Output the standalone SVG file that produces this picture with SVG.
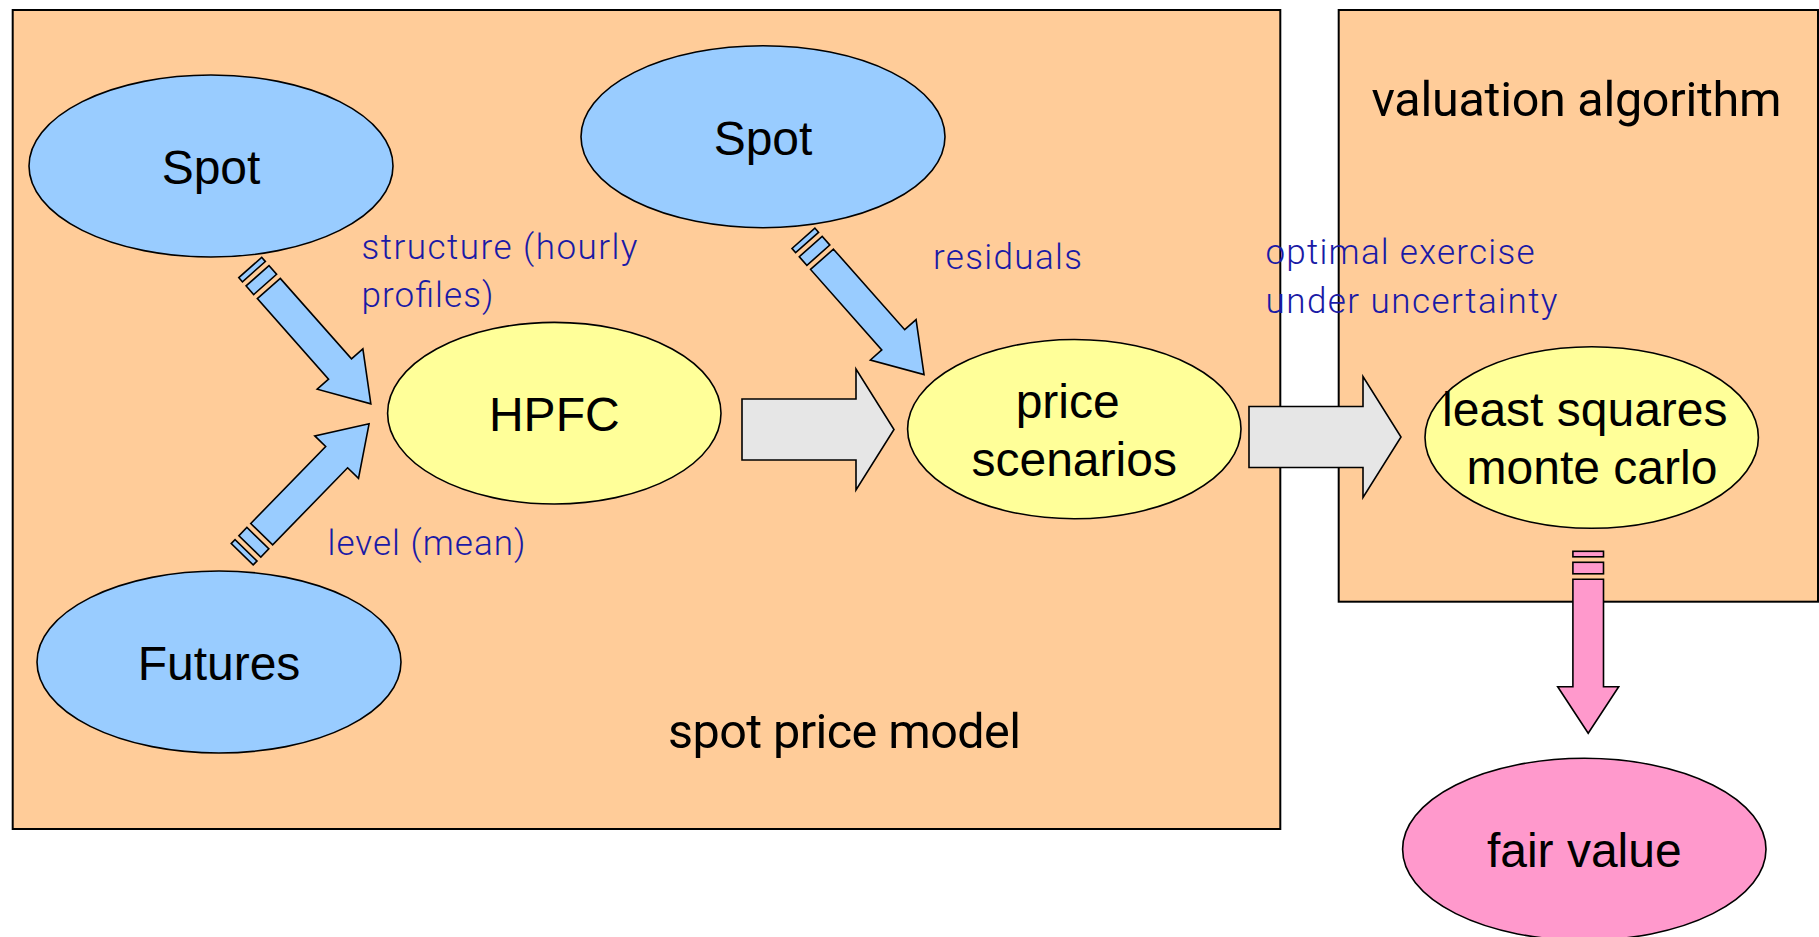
<svg xmlns="http://www.w3.org/2000/svg" xmlns:xlink="http://www.w3.org/1999/xlink" width="1819" height="937" viewBox="0 0 1819 937">
  <style>
    .box { fill: #ffcc99; stroke: #000; stroke-width: 2; }
    .node { stroke: #000; stroke-width: 1.6; }
    .input { fill: #99ccff; }
    .calc { fill: #ffff99; }
    .result { fill: #ff99cc; }
    .flow { fill: #e6e6e6; stroke: #000; stroke-width: 1.6; stroke-linejoin: miter; }
    .feed { stroke: #000; stroke-width: 1.6; stroke-linejoin: miter; }
    .feed-blue { fill: #99ccff; }
    .feed-pink { fill: #ff99cc; }
    .nodetext { font-family: "Liberation Sans", Arial, sans-serif; font-size: 48px; fill: #000; text-anchor: middle; }
    .title { font-family: Roboto, "DejaVu Sans", sans-serif; font-size: 48.5px; fill: #000; }
    .note { font-family: Roboto, "DejaVu Sans", sans-serif; font-size: 35px; font-weight: 300; fill: #1a1aa6; }
  </style>
  <defs>
    <!-- striped block arrow, tail at origin, pointing along +x -->
    <g id="striped-arrow">
      <rect x="-28" y="-15.3" width="5.5" height="30.6"/>
      <rect x="-17" y="-15.3" width="11.5" height="30.6"/>
      <polygon points="0,-15.3 107.5,-15.3 107.5,-30.5 154,0 107.5,30.5 107.5,15.3 0,15.3"/>
    </g>
    <!-- wide flow arrow, tail centre at origin, pointing along +x -->
    <polygon id="flow-arrow" points="0,-30.5 114,-30.5 114,-60.5 152,0 114,60.5 114,30.5 0,30.5"/>
  </defs>

  <rect width="1819" height="937" fill="#ffffff"/>

  <!-- containers -->
  <g id="spot-price-model">
    <rect class="box" x="12.7" y="10" width="1267.6" height="819"/>
    <text class="title" x="668" y="748" textLength="353">spot price model</text>
  </g>
  <g id="valuation-algorithm">
    <rect class="box" x="1338.7" y="10" width="479.3" height="591.7"/>
    <text class="title" x="1371.5" y="116" textLength="410">valuation algorithm</text>
  </g>

  <!-- connectors -->
  <g id="connectors">
    <use xlink:href="#striped-arrow" class="feed feed-blue" transform="translate(268.8,288.5) rotate(48.5)"/>
    <use xlink:href="#striped-arrow" class="feed feed-blue" transform="translate(261.7,534.2) rotate(-45.8)"/>
    <use xlink:href="#striped-arrow" class="feed feed-blue" transform="translate(822,259.3) rotate(48.5)"/>
    <use xlink:href="#flow-arrow" class="flow" transform="translate(742,429.5)"/>
    <use xlink:href="#flow-arrow" class="flow" transform="translate(1249,437)"/>
    <use xlink:href="#striped-arrow" class="feed feed-pink" transform="translate(1588.2,579.3) rotate(90)"/>
  </g>

  <!-- connector labels -->
  <g id="labels">
    <text class="note" x="361.5" y="258.5" textLength="276">structure (hourly</text>
    <text class="note" x="361.5" y="307" textLength="132">profiles)</text>
    <text class="note" x="327.5" y="554.5" textLength="198">level (mean)</text>
    <text class="note" x="933" y="268.5" textLength="149">residuals</text>
    <text class="note" x="1265.5" y="263.5" textLength="269">optimal exercise</text>
    <text class="note" x="1265.5" y="312.5" textLength="292">under uncertainty</text>
  </g>

  <!-- nodes -->
  <g id="spot-structure">
    <ellipse class="node input" cx="211" cy="166" rx="182" ry="91"/>
    <text class="nodetext" x="211" y="184">Spot</text>
  </g>
  <g id="spot-residuals">
    <ellipse class="node input" cx="763" cy="136.7" rx="182" ry="91"/>
    <text class="nodetext" x="763" y="155">Spot</text>
  </g>
  <g id="futures">
    <ellipse class="node input" cx="219" cy="662" rx="182" ry="91"/>
    <text class="nodetext" x="219" y="680">Futures</text>
  </g>
  <g id="hpfc">
    <ellipse class="node calc" cx="554.3" cy="413.2" rx="166.7" ry="90.8"/>
    <text class="nodetext" x="554.3" y="431">HPFC</text>
  </g>
  <g id="price-scenarios">
    <ellipse class="node calc" cx="1074.3" cy="429.1" rx="166.7" ry="89.6"/>
    <text class="nodetext" x="1067.7" y="418">price</text>
    <text class="nodetext" x="1074.2" y="476">scenarios</text>
  </g>
  <g id="least-squares-monte-carlo">
    <ellipse class="node calc" cx="1591.7" cy="437.5" rx="166.7" ry="90.8"/>
    <text class="nodetext" x="1584.8" y="426">least squares</text>
    <text class="nodetext" x="1592" y="484">monte carlo</text>
  </g>
  <g id="fair-value">
    <ellipse class="node result" cx="1584.3" cy="849.3" rx="181.7" ry="91"/>
    <text class="nodetext" x="1584.3" y="867">fair value</text>
  </g>
</svg>
